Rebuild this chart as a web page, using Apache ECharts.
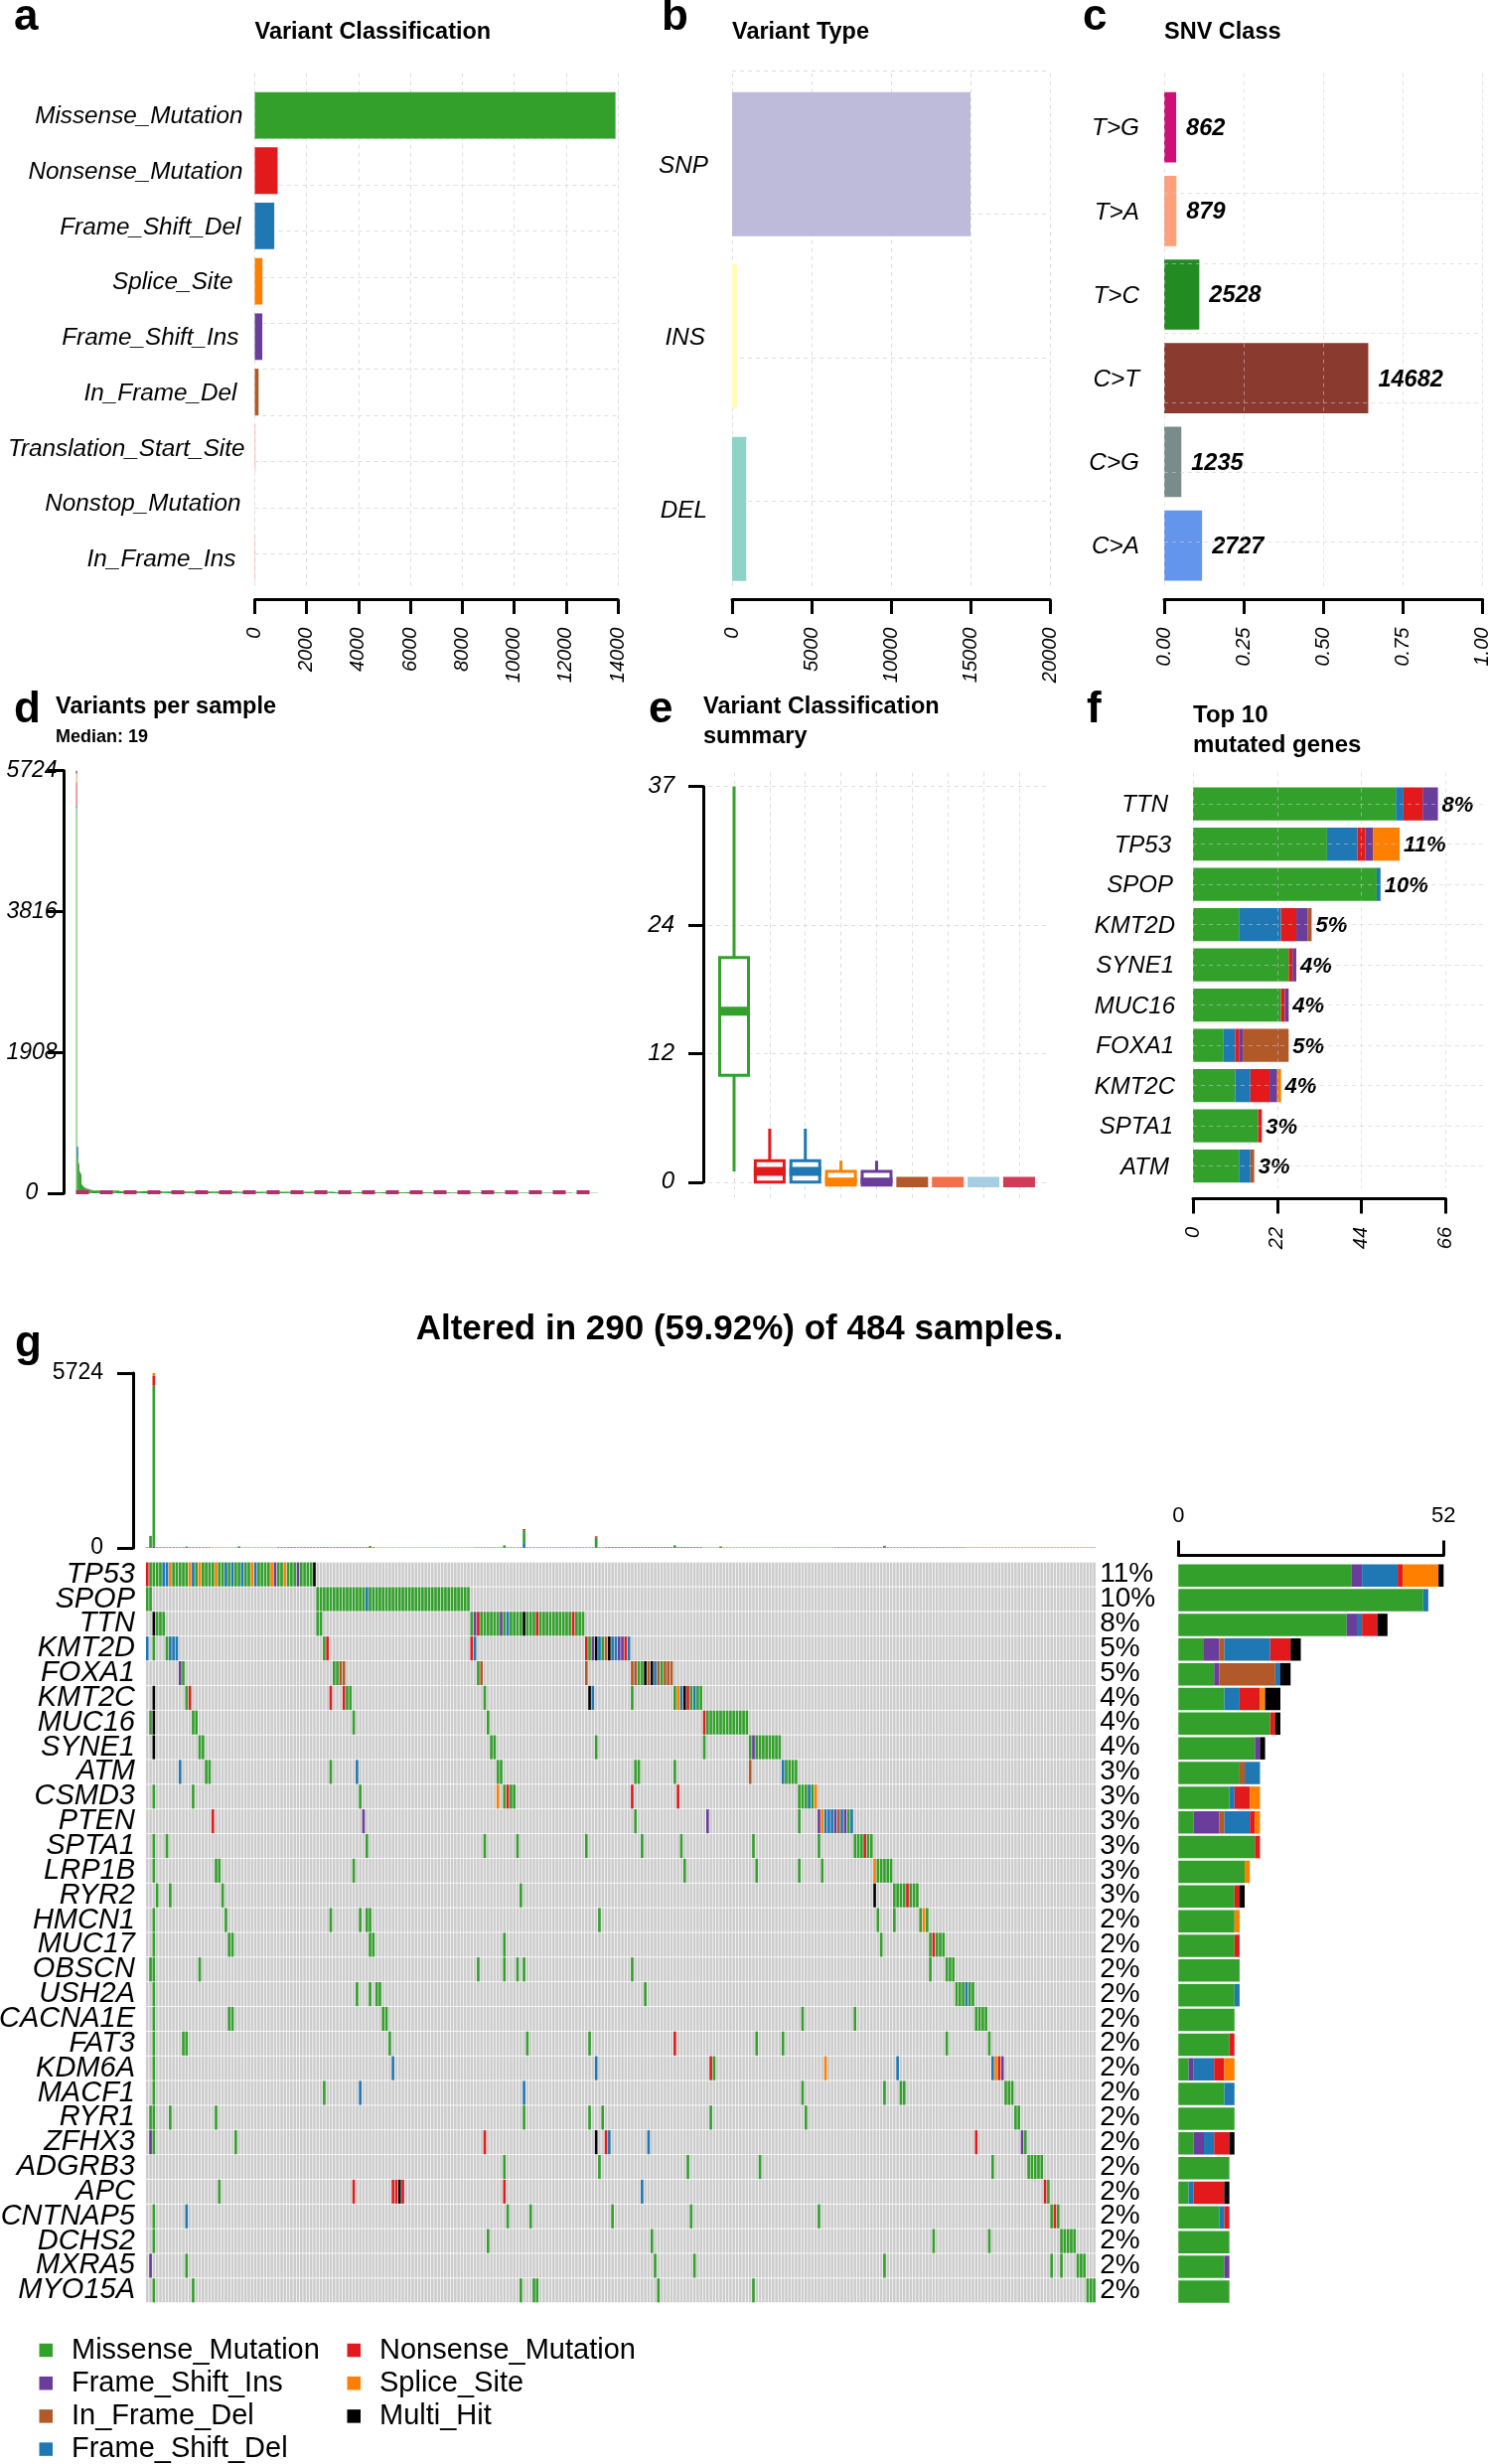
<!DOCTYPE html>
<html><head><meta charset="utf-8">
<style>html,body{margin:0;padding:0;background:#fff}#c{width:1499px;height:2480px}</style>
<script src="https://cdn.jsdelivr.net/npm/echarts@6/dist/echarts.min.js"></script>
</head><body><div id="c"></div>
<script>
// ---------- DATA ----------
const classNames=['Missense_Mutation','Nonsense_Mutation','Frame_Shift_Del','Splice_Site','Frame_Shift_Ins','In_Frame_Del','Translation_Start_Site','Nonstop_Mutation','In_Frame_Ins'];
const classValues=[13908,880,751,295,290,147,30,15,25];
const typeNames=['SNP','INS','DEL'];
const typeValues=[15000,300,890];
const snvNames=['T>G','T>A','T>C','C>T','C>G','C>A'];
const snvCounts=[862,879,2528,14682,1235,2727];
// variants per sample (d): leading samples, then run lengths [count,value]
const dMissHead=[5220,480,380,280,250,110,92,78,68,64,60,55,50,46,42];
const dDelHead=[24,148,14,10,10,5,4,3,3,2,2,2,2,1,1];
const dNonHead=[324,0,16,10,10,5,4,4,4,4,3,3,3,2,2];
const dSpliceHead=[116,0,0,0,0,0,0,0,0,0,0,0,0,0,0];
const dInsHead=[40,0,0,0,0,0,0,0,0,0,0,0,0,0,0];
const dTailRuns=[[25,36],[40,28],[70,23],[90,19],[90,15],[80,11],[50,7],[24,3]];
const dMedian=19;
// boxes (e): min,Q1,median,Q3,max
const boxMissense=[1,10,16,21,37];
const boxNonsense=[0,0,1,2,5];
const boxFsDel=[0,0,1,2,5];
const boxSplice=[0,0,0,1,2];
const boxFsIns=[0,0,0,1,2];
const boxIfDel=[0,0,0,0,0];
const boxTss=[0,0,0,0,0];
const boxNonstop=[0,0,0,0,0];
const boxIfIns=[0,0,0,0,0];
// top 10 (f)
const topGenes=['TTN','TP53','SPOP','KMT2D','SYNE1','MUC16','FOXA1','KMT2C','SPTA1','ATM'];
const topPct=['8%','11%','10%','5%','4%','4%','5%','4%','3%','3%'];
const fMissense=[53,35,48,12,25,23,8,11,17,12];
const fFsDel=[2,8,1,11,0,0,3,4,0,3];
const fNonsense=[5,2,0,4,1,1,1,5,1,0];
const fFsIns=[4,2,0,3,1,1,1,2,0,0];
const fSplice=[0,7,0,0,0,0,0,1,0,0];
const fIfDel=[0,0,0,1,0,0,12,0,0,1];
// oncoplot (g): sample ranges per gene; later entries replace earlier ones
const oncoGenes=['TP53','SPOP','TTN','KMT2D','FOXA1','KMT2C','MUC16','SYNE1','ATM','CSMD3','PTEN','SPTA1','LRP1B','RYR2','HMCN1','MUC17','OBSCN','USH2A','CACNA1E','FAT3','KDM6A','MACF1','RYR1','ZFHX3','ADGRB3','APC','CNTNAP5','DCHS2','MXRA5','MYO15A'];
const oncoPct=['11%','10%','8%','5%','5%','4%','4%','4%','3%','3%','3%','3%','3%','3%','2%','2%','2%','2%','2%','2%','2%','2%','2%','2%','2%','2%','2%','2%','2%','2%'];
const TP53=['0N','1-50M','5-6D','14D','24D','26D','29D','33D','7S','13S','16S','21S','32S','38S','42S','39I','46I','51H'];
const SPOP=['0-1M','52-98M','67D'];
const TTN=['2H','3-5M','52-53M','99-133M','100I','101N','108I','110D','115H','119N','130N'];
const KMT2D=['0D','2M','6M','7-9D','54M','55N','99N','100D','134N','135M','136I','137H','138D','139M','140B','141H','142-143D','144-145I','146N','147D'];
const FOXA1=['10I','11M','57-58M','59-60B','101M','102B','134B','148-149B','150-151M','152H','153B','154H','155D','156B','157M','158-160B'];
const KMT2C=['2H','12M','13N','56N','60N','61-62M','103M','135H','136D','148M','161M','162S','163D','164H','165N','166M','167D','168-169M'];
const MUC16=['1M','2H','14-15M','63M','104M','170N','171-183M'];
const SYNE1=['2H','16-17M','105-106M','137M','170M','184M','185I','186-193M'];
const ATM=['10D','18-19M','56M','64D','107-108M','149-150M','161M','184B','194D','195-198M'];
const CSMD3=['2M','14M','65M','107S','109M','110N','111-112M','148N','162N','199-201M','202D','203M','204S'];
const PTEN=['20N','66I','149M','171I','199M','205I','206S','207-209D','210I','211B','212D','213I','214M','215D'];
const SPTA1=['2M','6M','67M','103M','113M','134M','151M','163M','185M','205M','216-218M','219N','220-221M'];
const LRP1B=['2M','21-22M','63M','164M','186M','199M','206M','222S','223-227M'];
const RYR2=['3M','7M','23M','114M','222H','228-231M','232N','233-235M'];
const HMCN1=['2M','24M','56M','65M','67-68M','138M','223M','228M','236M','237S','238M'];
const MUC17=['2M','25-26M','68-69M','109M','224M','239M','240N','241-243M'];
const OBSCN=['1-2M','16M','101M','109M','113M','115M','148M','239M','244-246M'];
const USH2A=['2M','64M','68M','70-71M','152M','247-249M','250D','251-252M'];
const CACNA1E=['2M','25-26M','72-73M','200M','216M','253-256M'];
const FAT3=['2M','11-12M','74M','116M','135M','161N','186M','194M','244M','257M'];
const KDM6A=['2M','75D','137D','172N','173M','207S','229D','258D','259S','260N','261I'];
const MACF1=['2M','54M','65D','115D','200M','225M','230-231M','262-264M'];
const RYR1=['1-2M','7M','21M','115M','135M','139M','172M','201M','265-266M'];
const ZFHX3=['1I','2M','27M','103N','137H','140N','141D','153D','253N','267I','268M'];
const ADGRB3=['109M','138M','165M','187M','258M','269-273M'];
const APC=['22M','63N','75-76N','77H','78N','109N','151D','274N','275M'];
const CNTNAP5=['2M','12D','110M','117M','142M','166M','205M','276M','277N','278M'];
const DCHS2=['2M','104M','154M','240M','257M','279-283M'];
const MXRA5=['1I','12M','155M','167M','225M','276M','279M','284-286M'];
const MYO15A=['2M','14M','114M','118-119M','156M','185M','287-289M'];
const oncoRows=[TP53,SPOP,TTN,KMT2D,FOXA1,KMT2C,MUC16,SYNE1,ATM,CSMD3,PTEN,SPTA1,LRP1B,RYR2,HMCN1,MUC17,OBSCN,USH2A,CACNA1E,FAT3,KDM6A,MACF1,RYR1,ZFHX3,ADGRB3,APC,CNTNAP5,DCHS2,MXRA5,MYO15A];
const oncoSamples=290;
// top bars of g: base runs [count,value] and spikes [sample,del,ins,missense,nonsense,splice]
const topBaseRuns=[[20,22],[20,14],[30,24],[30,12],[40,18],[30,26],[40,14],[40,20],[40,16]];
const topSpikes=[[1,0,0,395,0,0],[2,40,45,5227,325,87],[12,0,0,40,4,0],[28,0,0,50,0,0],[68,0,0,60,4,0],[109,0,0,75,8,0],[115,160,0,420,38,0],[137,0,0,340,40,0],[161,0,0,85,0,0],[175,0,0,50,0,0],[225,0,0,70,0,0]];

// ---------- STYLES ----------
const FF='"Liberation Sans",Arial,Helvetica,sans-serif';
const C={M:'#33a02c',I:'#6a3d9a',B:'#b15928',D:'#1f78b4',N:'#e31a1c',S:'#ff7f00',H:'#000000'};
const TN={M:'Missense_Mutation',I:'Frame_Shift_Ins',B:'In_Frame_Del',D:'Frame_Shift_Del',N:'Nonsense_Mutation',S:'Splice_Site',H:'Multi_Hit'};
const classColors=['#33a02c','#e31a1c','#1f78b4','#ff7f00','#6a3d9a','#b15928','#fbb4ae','#d5e6f3','#f5b5b5'];
const typeColors=['#bebada','#ffffb3','#8dd3c7'];
const snvColors=['#cd1076','#ffa07a','#228b22','#8b3a2f','#7a8b8b','#6495ed'];
const boxColors=['#33a02c','#e31a1c','#1f78b4','#ff7f00','#6a3d9a','#b15928','#f1704a','#a6cee3','#d03c58'];
const GRIDC='#dedede';
const plain=v=>String(v);

const grids=[],xAxes=[],yAxes=[],series=[],graphics=[];
function txt(t,x,y,size,o){o=o||{};graphics.push({type:'text',silent:true,style:{text:t,x:x,y:y,fill:'#000',font:(o.italic?'italic ':'')+(o.bold?'bold ':'')+size+'px '+FF,textAlign:o.align||'left',textVerticalAlign:'middle'}});}
function addGrid(g,x,y){grids.push(Object.assign({containLabel:false,outerBoundsMode:'none'},g));const i=grids.length-1;xAxes.push(Object.assign({gridIndex:i},x));yAxes.push(Object.assign({gridIndex:i},y));return {g:i,x:xAxes.length-1,y:yAxes.length-1};}
const dash={show:true,lineStyle:{color:GRIDC,type:[4,4],width:1}};
const dashOver={show:true,lineStyle:{color:'rgba(205,205,205,0.55)',type:[4,4],width:1}};
const off={show:false};
function vBg(o){
  addGrid({left:o.left,width:o.right-o.left,top:o.top,height:o.bottom-o.top},
   {type:'value',min:o.min,max:o.max,interval:o.interval,position:'bottom',z:o.z||0,show:true,offset:o.axisOffset||0,splitLine:o.z?dashOver:dash,
    axisLine:{show:!o.noAxis,onZero:false,lineStyle:{color:'#000',width:3}},
    axisTick:{show:!o.noAxis,length:o.tick||14.5,lineStyle:{color:'#000',width:3}},
    axisLabel:{show:!o.noAxis,rotate:90,margin:o.margin||28,fontSize:20,fontStyle:'italic',fontFamily:FF,color:'#000',formatter:o.fmt||plain,hideOverlap:false,showMinLabel:true,showMaxLabel:true}},
   {type:'value',min:0,max:1,show:false,splitLine:off});
}
function hBg(o){
  addGrid({left:o.left,width:o.right-o.left,top:o.top,height:o.pitch*(o.n-1)},
   {type:'value',min:0,max:1,show:false,splitLine:off},
   {type:'value',min:0,max:o.n-1,interval:1,inverse:true,z:o.z||0,show:true,splitLine:o.z?dashOver:dash,axisLine:off,axisTick:off,axisLabel:off});
}
function padLabels(pads,size,margin){
  const rich={t:{fontSize:size,fontStyle:'italic',fontFamily:FF,color:'#000',padding:[3,0,0,0]}};
  pads.forEach(p=>{if(p)rich['s'+p]={width:p,height:1};});
  return {show:true,margin:margin,interval:0,rich:rich,formatter:(v,i)=>'{t|'+v+'}'+(pads[i]?'{s'+pads[i]+'| }':'')};
}
function catGrid(o,names,pads,size,margin){
  return addGrid({left:o.left,width:o.right-o.left,top:o.top,height:o.pitch*names.length},
   {type:'value',min:o.min,max:o.max,show:false,splitLine:off},
   {type:'category',data:names,inverse:true,axisLine:off,axisTick:off,splitLine:off,axisLabel:padLabels(pads,size,margin)});
}

// ---------- PANEL a ----------
vBg({left:256.5,right:622,top:73.7,bottom:594,min:0,max:14000,interval:2000,axisOffset:9.6,margin:28});
hBg({left:256.5,right:622,top:93,pitch:46.45,n:11});
let r=catGrid({left:256.5,right:622,top:88.2,pitch:55.7,min:0,max:14000},classNames,[2,2,4,12,6,8,0,4,9],24.3,10);
series.push({type:'bar',name:'classification',xAxisIndex:r.x,yAxisIndex:r.y,barWidth:46.8,data:classValues.map((v,i)=>({value:v,itemStyle:{color:classColors[i]}}))});

// ---------- PANEL b ----------
vBg({left:737,right:1057,top:73.7,bottom:594,min:0,max:20000,interval:5000,axisOffset:9.6,margin:28});
hBg({left:737,right:1057,top:71,pitch:144.4,n:4});
r=catGrid({left:737,right:1057,top:78.6,pitch:173.5,min:0,max:20000},typeNames,[0,3,1],24.3,24);
series.push({type:'bar',name:'type',xAxisIndex:r.x,yAxisIndex:r.y,barWidth:145,data:typeValues.map((v,i)=>({value:v,itemStyle:{color:typeColors[i]}}))});

// ---------- PANEL c ----------
r=catGrid({left:1172,right:1492.6,top:86,pitch:84.2,min:0,max:1},snvNames,[0,0,0,0,0,0],24.3,25);
const snvTotal=snvCounts.reduce((a,b)=>a+b,0);
series.push({type:'bar',name:'snv',xAxisIndex:r.x,yAxisIndex:r.y,barWidth:70.7,
  label:{show:true,position:'right',distance:10,offset:[0,1.5],fontSize:23.5,fontWeight:'bold',fontStyle:'italic',fontFamily:FF,color:'#000',formatter:p=>String(snvCounts[p.dataIndex])},
  data:snvCounts.map((v,i)=>({value:v/snvTotal,itemStyle:{color:snvColors[i]}}))});
vBg({left:1172,right:1492.6,top:73.7,bottom:594,min:0,max:1,interval:0.25,axisOffset:9.6,margin:28,z:5,fmt:v=>v.toFixed(2)});
hBg({left:1172,right:1492.6,top:194.7,pitch:70.15,n:6,z:5});

// ---------- PANEL d ----------
const dRun=[];dTailRuns.forEach(([n,v])=>{for(let i=0;i<n;i++)dRun.push(v);});
const dMiss=dMissHead.concat(dRun);
const dN=dMiss.length;
const dPad=a=>a.concat(new Array(dN-a.length).fill(0));
r=addGrid({left:76.5,width:525.5,top:775.7,height:425.3},
  {type:'category',data:dMiss.map((_,i)=>i),show:false},
  {type:'value',min:0,max:5724,interval:1908,offset:12,splitLine:off,
   axisLine:{show:true,lineStyle:{color:'#000',width:3}},axisTick:{show:true,length:16.5,lineStyle:{color:'#000',width:3}},
   axisLabel:{align:'center',margin:32.5,padding:[5,0,0,0],fontSize:23,fontStyle:'italic',fontFamily:FF,color:'#000',formatter:plain}});
[['d_M',dMiss.map((v,i)=>i===0?{value:v,itemStyle:{color:'#6cc267'}}:v),C.M],['d_D',dPad(dDelHead),'#1f78b4'],['d_N',dPad(dNonHead),'#ef5b66'],['d_S',dPad(dSpliceHead),'#ffb060'],['d_I',dPad(dInsHead),'#6a3d9a']].forEach(([n,d,c])=>{
  series.push({type:'bar',name:n,stack:'d',xAxisIndex:r.x,yAxisIndex:r.y,barWidth:1.3,itemStyle:{color:c},data:d,
   markLine:n==='d_M'?{silent:true,symbol:'none',label:off,lineStyle:{color:'#b5306a',type:[13,11],width:4},data:[{yAxis:dMedian}]}:undefined});
});

// ---------- PANEL e ----------
vBg({left:739,right:1025.8,top:777.6,bottom:1206,min:0,max:8,interval:1,noAxis:true});
r=addGrid({left:713,width:342,top:791.7,height:398.1},
  {type:'value',min:-0.725,max:8.81,show:false,splitLine:off},
  {type:'value',min:0,max:37,offset:5,splitLine:dash,
   axisLine:{show:true,onZero:false,lineStyle:{color:'#000',width:3}},
   axisTick:{show:true,length:15,customValues:[0,12,24,37],lineStyle:{color:'#000',width:3}},
   axisLabel:{show:true,margin:29,padding:[3,0,0,0],customValues:[0,12,24,37],fontSize:24,fontStyle:'italic',fontFamily:FF,color:'#000'}});
const boxes=[boxMissense,boxNonsense,boxFsDel,boxSplice,boxFsIns,boxIfDel,boxTss,boxNonstop,boxIfIns];
series.push({type:'custom',name:'boxes',xAxisIndex:r.x,yAxisIndex:r.y,clip:false,
  data:boxes.map((b,i)=>[i].concat(b)),encode:{x:0,y:[1,2,3,4,5]},
  renderItem:(p,api)=>{
    const i=api.value(0),c=boxColors[i],X=api.coord([i,0])[0],Y=v=>api.coord([i,v])[1];
    const lo=Y(api.value(1)),q1=Y(api.value(2)),md=Y(api.value(3)),q3=Y(api.value(4)),hi=Y(api.value(5));
    const hw=14.5,st={stroke:c,lineWidth:3,fill:'none'},mh=q1===q3?10.5:9;
    const ch=[
     {type:'line',shape:{x1:X,y1:q3,x2:X,y2:hi},style:st},
     {type:'line',shape:{x1:X,y1:q1,x2:X,y2:lo},style:st},
     {type:'rect',shape:{x:X-hw,y:q3,width:2*hw,height:q1-q3},style:{stroke:c,lineWidth:3,fill:'#fff'}},
     {type:'rect',shape:{x:X-hw-1.5,y:md-mh/2,width:2*hw+3,height:mh},style:{fill:c}}];
    return {type:'group',children:ch};
  }});

// ---------- PANEL f ----------
vBg({left:1201,right:1455.3,top:777.6,bottom:1196,min:0,max:66,interval:22,axisOffset:10,tick:15.5,margin:29,z:5});
hBg({left:1201,right:1493,top:809.2,pitch:40.5,n:10,z:5});
r=catGrid({left:1201,right:1455.3,top:788.9,pitch:40.5,min:0,max:66},topGenes,[8,5,3,1,2,1,2,1,3,7],24,17);
[['f_M',fMissense,C.M],['f_D',fFsDel,C.D],['f_N',fNonsense,C.N],['f_I',fFsIns,C.I],['f_S',fSplice,C.S],['f_B',fIfDel,C.B]].forEach(([n,d,c])=>{
  series.push({type:'bar',name:n,stack:'f',xAxisIndex:r.x,yAxisIndex:r.y,barWidth:33.3,itemStyle:{color:c},data:d});
});
series.push({type:'bar',name:'f_lab',stack:'f',xAxisIndex:r.x,yAxisIndex:r.y,barWidth:33.3,itemStyle:{color:'transparent'},data:topGenes.map(()=>0.001),
  label:{show:true,position:'right',distance:4,offset:[0,1.5],fontSize:22,fontWeight:'bold',fontStyle:'italic',fontFamily:FF,color:'#000',formatter:p=>topPct[p.dataIndex]}});

// ---------- PANEL g ----------
const cells=oncoRows.map(row=>{const m={};row.forEach(s=>{const k=s.slice(-1),p=s.slice(0,-1).split('-').map(Number);for(let j=p[0];j<=(p[1]===undefined?p[0]:p[1]);j++)m[j]=k;});return m;});
const samples=Array.from({length:oncoSamples},(_,i)=>String(i));
const topBase=[];topBaseRuns.forEach(([n,v])=>{for(let i=0;i<n;i++)topBase.push(v);});
const topD=samples.map(()=>0),topI=samples.map(()=>0),topM=topBase.slice(0,oncoSamples),topN=samples.map(()=>0),topS=samples.map(()=>0);
topSpikes.forEach(s=>{topD[s[0]]=s[1];topI[s[0]]=s[2];topM[s[0]]=s[3];topN[s[0]]=s[4];topS[s[0]]=s[5];});
r=addGrid({left:146.6,width:956.6,top:1382,height:176},
  {type:'category',data:samples,show:false},
  {type:'value',min:0,max:5724,interval:5724,offset:12.6,splitLine:off,
   axisLine:{show:true,lineStyle:{color:'#000',width:3}},axisTick:{show:true,length:16,lineStyle:{color:'#000',width:3}},
   axisLabel:{margin:30,padding:[3,0,0,0],fontSize:23,fontFamily:FF,color:'#000',formatter:plain}});
[['t_D',topD,C.D],['t_I',topI,C.I],['t_M',topM,C.M],['t_N',topN,C.N],['t_S',topS,C.S]].forEach(([n,d,c])=>{
  series.push({type:'bar',name:n,stack:'t',xAxisIndex:r.x,yAxisIndex:r.y,barWidth:2.7,itemStyle:{color:c},data:d});
});
// matrix
grids.push({left:146.6,width:956.6,top:1572.2,height:745.5,containLabel:false,outerBoundsMode:'none'});
const gi=grids.length-1;
xAxes.push({gridIndex:gi,type:'category',data:samples,show:false});
const gx=xAxes.length-1;
yAxes.push({gridIndex:gi,type:'category',data:oncoGenes,inverse:true,axisLine:off,axisTick:off,splitLine:off,axisLabel:{interval:0,margin:10.6,padding:[4,0,0,0],fontSize:29,fontStyle:'italic',fontFamily:FF,color:'#000'}});
const gy=yAxes.length-1;
yAxes.push({gridIndex:gi,type:'category',data:oncoPct,inverse:true,position:'right',axisLine:off,axisTick:off,splitLine:off,axisLabel:{interval:0,margin:4,padding:[4,0,0,0],fontSize:28,fontFamily:FF,color:'#000'}});
const heat=(name,d,c)=>series.push({type:'custom',name:name,xAxisIndex:gx,yAxisIndex:gy,itemStyle:{color:c},data:d,encode:{x:0,y:1},
  renderItem:(p,api)=>{const q=api.coord([api.value(0),api.value(1)]),s=api.size([1,1]);
    return {type:'rect',shape:{x:q[0]-s[0]/2+0.35,y:q[1]-s[1]/2+0.4,width:s[0]-0.7,height:s[1]-0.8},style:{fill:c}};}});
const allCells=[];oncoGenes.forEach((_,y)=>samples.forEach((_s,x)=>allCells.push([x,y])));
heat('not mutated',allCells,'#cccccc');
['M','I','B','D','N','S','H'].forEach(k=>{
  const d=[];cells.forEach((m,y)=>Object.keys(m).forEach(x=>{if(m[x]===k)d.push([+x,y]);}));
  heat(TN[k],d,C[k]);
});
// right stacked bars
r=addGrid({left:1186.3,width:267,top:1573.3,height:745.5},
  {type:'value',min:0,max:52,interval:52,position:'top',offset:8.3,splitLine:off,
   axisLine:{show:true,onZero:false,lineStyle:{color:'#000',width:3}},axisTick:{show:true,length:14.5,lineStyle:{color:'#000',width:3}},
   axisLabel:{margin:28,fontSize:22,fontFamily:FF,color:'#000',showMinLabel:true,showMaxLabel:true}},
  {type:'category',data:oncoGenes,inverse:true,show:false});
['M','I','B','D','N','S','H'].forEach(k=>{
  series.push({type:'bar',name:'r_'+k,stack:'r',xAxisIndex:r.x,yAxisIndex:r.y,barWidth:22.5,itemStyle:{color:C[k]},
    data:cells.map(m=>Object.values(m).filter(v=>v===k).length)});
});

// ---------- TEXT ----------
[['a',14,31],['b',666,31],['c',1090,31],['d',14,727.5],['e',653,727.5],['f',1094,727.5],['g',15,1366]].forEach(l=>txt(l[0],l[1],l[2]-13,44,{bold:true}));
txt('Variant Classification',256.5,32.5,23.5,{bold:true});
txt('Variant Type',737,32.5,23.5,{bold:true});
txt('SNV Class',1172,32.5,23.5,{bold:true});
txt('Variants per sample',56,712,23.5,{bold:true});
txt('Median: 19',56,742.5,18,{bold:true});
txt('Variant Classification',708,712,23.5,{bold:true});
txt('summary',708,741.5,23.5,{bold:true});
txt('Top 10',1201,720.5,24,{bold:true});
txt('mutated genes',1201,750.5,24,{bold:true});
txt('Altered in 290 (59.92%) of 484 samples.',744.5,1338,35,{bold:true,align:'center'});

const legendBase={orient:'vertical',icon:'rect',itemWidth:13.5,itemHeight:13.5,itemGap:4.2,selectedMode:false,padding:0,height:200,
  textStyle:{fontSize:29,fontFamily:FF,color:'#000',lineHeight:29,padding:[0,0,0,14]}};
const chart=echarts.init(document.getElementById('c'),null,{width:1499,height:2480});
chart.setOption({
  animation:false,backgroundColor:'#fff',textStyle:{fontFamily:FF},
  grid:grids,xAxis:xAxes,yAxis:yAxes,series:series,graphic:{elements:graphics},
  legend:[
   Object.assign({},legendBase,{left:39.5,top:2351,data:[TN.M,TN.I,TN.B,TN.D]}),
   Object.assign({},legendBase,{left:349.5,top:2351,data:[TN.N,TN.S,TN.H]})]
});
</script></body></html>
